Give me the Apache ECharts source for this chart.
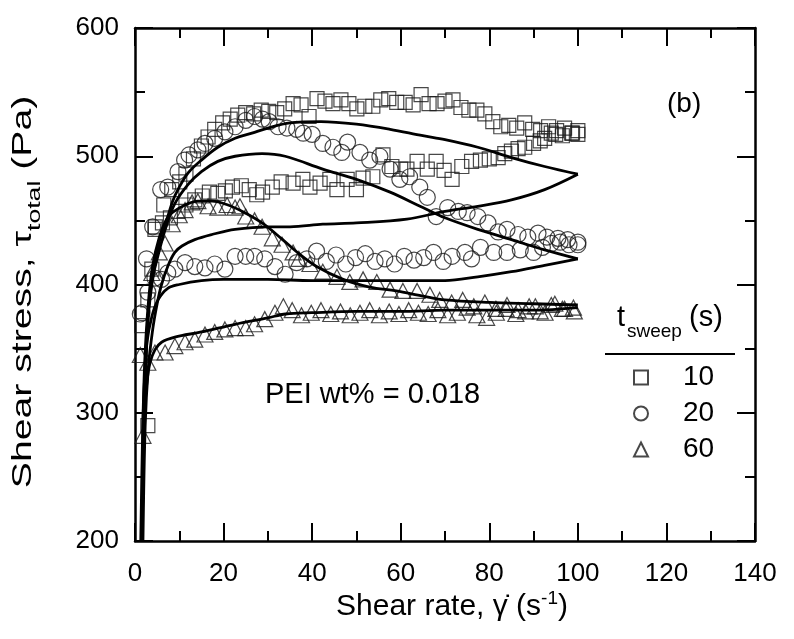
<!DOCTYPE html>
<html><head><meta charset="utf-8">
<script src="https://cdn.jsdelivr.net/npm/echarts@6/dist/echarts.min.js"></script>
<style>html,body{margin:0;padding:0;background:#fff}#c{width:794px;height:639px}</style>
</head><body><div id="c"></div>
<script>
// ---- tick labels ----
const xTickLabels = [0, 20, 40, 60, 80, 100, 120, 140];
const yTickLabels = [200, 300, 400, 500, 600];

// ---- t_sweep = 10 s (squares) ----
const sq10Upper = [[2.9,290],[4.6,445],[6.5,462],[8.3,474],[10.1,480],[11.5,486],[13.2,498],[15,508],[16.5,515],[18,521],[19.8,526],[21.5,529],[23.2,532],[25,534],[26.8,533],[28.5,536],[30.2,535],[32,534],[33.8,537],[35.7,541],[37.5,540],[39.3,531],[41.1,545],[42.9,543],[44.7,541],[46.5,544],[48.3,541],[50.1,537],[51.9,539],[53.7,539],[55.5,544],[57.3,545],[59.1,542],[61,542],[62.8,540],[64.6,548],[66.4,541],[68.2,541],[70,543],[71.8,544],[73.6,538],[75.4,536],[77.2,536],[79,533],[80.8,527],[82.6,523],[84.4,524],[86.2,522],[88,526],[89.8,521],[91.6,520],[93.4,523],[95.2,520],[97,522],[98.8,518],[100,517]];
const sq10Lower = [[1.5,368],[2.9,388],[3.8,412],[4.5,443],[6.2,448],[8,452],[9.7,457],[11.5,462],[13.5,466],[15.2,469],[16.8,472],[18.7,471],[20.4,473],[22,476],[24,477],[25.8,474],[27.5,470],[28.8,472],[31,476],[33,480],[35.7,479],[37.9,482],[39.5,476],[41.8,479],[44,482],[45.6,474],[47.9,482],[50,474],[51.5,483],[53.7,484],[56,501],[58,492],[60,490],[61.4,490],[63.7,496],[66,490],[68,496],[69.8,489],[71.6,482],[73.8,492],[76,496],[78,497],[80,498],[82,499],[83.5,502],[85,504],[86.5,506],[88,507],[90,510],[91.5,512],[92.5,514],[94,518],[95,517],[96.5,516],[98.6,518],[100,520]];

// ---- t_sweep = 20 s (circles) ----
const ci20Upper = [[1.2,377],[2.6,420],[4.0,445],[5.8,474],[7.4,476],[9.7,488],[11.2,497],[12.2,501],[14.2,505],[15.8,510],[18,514],[20.3,519],[22.6,523],[25,528],[27,531],[28.8,529],[30.3,527],[32.3,523],[34.3,522],[36.5,521],[38,518],[40,517],[42.4,510],[44.7,507],[46.7,503],[48,511],[50.8,503],[53,497],[55.3,500],[57.6,490],[59.8,482],[62,484],[64.3,476],[66,468],[68,453],[70.6,460],[73,457],[75,456],[77.4,453],[79.7,448],[82,441],[84,443],[86.5,439],[88.7,437],[91,440],[93,437],[95.5,436],[97.7,435],[100,433]];
const ci20Lower = [[1.6,378],[2.9,394],[4.5,405],[6,404],[7.4,409],[9,412],[11.3,417],[13.5,414],[15.8,413],[18,416],[20.3,412],[22.6,422],[25,422],[27,422],[29.3,420],[31.6,414],[33.9,408],[36.5,417],[38.8,420],[41,426],[43.2,418],[45.4,423],[47.6,416],[49.8,421],[52,424],[54.2,418],[56.4,420],[58.6,416],[60.8,422],[63,419],[65.2,421],[67.4,425],[69.6,418],[71.6,422],[74.5,425],[76,420],[78,429],[81,425],[84,425],[87,427],[90,425],[92,429],[94,432],[96,433],[98,431],[100,431]];

// ---- t_sweep = 60 s (triangles) ----
const tr60Upper = [[1.8,282],[3.8,409],[5.5,425],[6.8,432],[8.4,447],[10,454],[11.3,458],[12.9,464],[14.2,465],[16.5,461],[18.7,460],[20.8,462],[22.6,460],[23.7,461],[25,453],[27,450],[28.7,445],[31,436],[33.2,431],[35.7,425],[37,420],[39.5,416],[42.4,410],[45.6,406],[48.5,402],[51.5,404],[54.6,402],[57.6,396],[60.5,395],[63.7,395],[66.6,392],[68.8,388],[71.5,386],[74,388],[76.5,383],[79,386],[81.5,381],[84,384],[86.5,380],[89,383],[91.5,379],[94,384],[96.5,381],[99,382]];
const tr60Lower = [[1.2,345],[2.9,339],[4.5,347],[6.8,347],[9,352],[11.3,355],[13.5,357],[15.8,361],[18,363],[20.3,365],[22.6,366],[25,366],[27,369],[29.3,373],[31.6,378],[33.5,383],[35.5,380],[37.6,376],[39.8,378],[42,380],[44.2,377],[46.4,379],[48.6,376],[50.8,378],[53,380],[55.2,376],[57.4,379],[59.6,377],[61.8,380],[64,378],[66.2,377],[68.4,380],[70.6,376],[72.8,378],[75,382],[77.2,376],[79.4,374],[81.6,378],[83.8,381],[86,377],[88.2,379],[90.4,383],[92.6,378],[94.8,385],[97,381],[99.2,379]];

// ---- model curves ----
const model10Up = [[1.6,200],[2.0,280],[2.5,340],[3,375],[4,405],[5,425],[6,440],[7.4,453],[8.5,465],[9.7,474],[12,487],[15,497],[18.7,507],[22.6,514],[26.4,518],[30,522],[35,526],[42,527],[50,525],[57.6,521],[65,516],[70,513],[77.4,507],[85,499],[92.5,492],[100,486]];
const model10Down = [[100,486],[92.5,474],[85,466],[77.4,461],[70,457],[61.4,451],[50,448],[42.4,447],[35,445],[30,445],[22.6,443],[17.4,439],[13.5,435],[10.6,430],[9,425],[7.5,415],[6,400],[5,385],[4,365],[3,335],[2.3,290],[1.8,200]];
const model20Up = [[1.5,200],[1.9,280],[2.4,340],[3,378],[3.8,402],[5,420],[7,445],[9,463],[12,478],[15,488],[18.7,496],[22.6,500],[28.7,502],[33.9,500],[42.4,490],[50,482],[57.6,472],[65,460],[70,452],[77.4,443],[85,435],[92.5,427],[100,420]];
const model20Down = [[100,420],[92.5,415],[85,410],[77.4,406],[70,403],[60,403],[50,403],[40,403],[30,404],[20,404],[15,403],[10,400],[7.4,397],[5.2,388],[3.8,375],[2.7,355],[2.2,330],[1.8,290],[1.6,200]];
const model60Up = [[1.3,200],[1.7,280],[2.2,340],[3,385],[4,415],[5.5,437],[7,450],[8.4,456],[11.3,462],[14.2,465],[17.4,465],[21,462],[24.8,456],[28.7,448],[33,436],[37,424],[41,414],[47,404],[53,398],[59,395],[65,391],[70,388],[80,386],[90,385],[100,384]];
const model60Down = [[100,382],[90,380],[80,380],[70,380],[60,379],[50,379],[40,378],[34,377],[30,374],[22.6,369],[15,363],[9,359],[6,355],[4.5,349],[3.4,339],[2.7,324],[2.2,300],[1.8,260],[1.5,200]];

const legendNames = ['10', '20', '60'];

const FONT = '"Liberation Sans", Arial, Helvetica, sans-serif';
const chart = echarts.init(document.getElementById('c'), null, {renderer: 'canvas'});

const hollow = {color: 'rgba(255,255,255,0)', borderColor: '#1a1a1a', borderWidth: 1.2};
function scatter(name, data, symbol, size) {
  return {type: 'scatter', name, data, symbol, symbolSize: size, itemStyle: hollow,
          emphasis: {disabled: true}, z: 2, animation: false};
}
function model(data) {
  return {type: 'line', data, showSymbol: false, symbol: 'none', smooth: 0.35,
          lineStyle: {color: '#000', width: 2.8}, z: 3, animation: false, silent: true};
}
const frameAxisLine = {show: true, onZero: false, lineStyle: {color: '#000', width: 2.5}};
const majorTick = {show: true, inside: true, length: 18, lineStyle: {color: '#000', width: 2}};
const minorTick = {show: true, splitNumber: 2, length: 10, lineStyle: {color: '#000', width: 2}};

const option = {
  animation: false,
  backgroundColor: '#fff',
  grid: {left: 135, right: 39, top: 28, bottom: 98, containLabel: false},
  xAxis: [
    {type: 'value', min: xTickLabels[0], max: xTickLabels[xTickLabels.length - 1], interval: 20,
     axisLine: frameAxisLine, axisTick: majorTick, minorTick: minorTick, splitLine: {show: false},
     axisLabel: {show: true, color: '#000', fontSize: 26, fontFamily: FONT, margin: 20}},
    {type: 'value', position: 'top', min: xTickLabels[0], max: xTickLabels[xTickLabels.length - 1], interval: 20,
     axisLine: frameAxisLine, axisTick: majorTick, minorTick: minorTick, splitLine: {show: false},
     axisLabel: {show: false}}
  ],
  yAxis: [
    {type: 'value', min: yTickLabels[0], max: yTickLabels[yTickLabels.length - 1], interval: 100,
     axisLine: frameAxisLine, axisTick: majorTick, minorTick: minorTick, splitLine: {show: false},
     axisLabel: {show: true, color: '#000', fontSize: 26, fontFamily: FONT, margin: 16}},
    {type: 'value', position: 'right', min: yTickLabels[0], max: yTickLabels[yTickLabels.length - 1], interval: 100,
     axisLine: frameAxisLine, axisTick: majorTick, minorTick: minorTick, splitLine: {show: false},
     axisLabel: {show: false}}
  ],
  legend: {
    data: legendNames.map(n => ({name: n})),
    orient: 'vertical', left: 628, top: 358, itemWidth: 14, itemHeight: 14, itemGap: 7,
    selectedMode: false,
    textStyle: {color: '#000', fontSize: 28, fontFamily: FONT, padding: [0, 0, 0, 30], lineHeight: 29}
  },
  series: [
    scatter('10', sq10Upper, 'rect', 14),
    scatter('10', sq10Lower, 'rect', 14),
    scatter('20', ci20Upper, 'circle', 16),
    scatter('20', ci20Lower, 'circle', 16),
    scatter('60', tr60Upper, 'triangle', [16, 15]),
    scatter('60', tr60Lower, 'triangle', [16, 15]),
    model(model10Up), model(model10Down),
    model(model20Up), model(model20Down),
    model(model60Up), model(model60Down)
  ],
  graphic: [
    {type: 'text', x: 23, y: 292, rotation: Math.PI / 2, scaleX: 1.4, scaleY: 1,
     style: {text: '{a|Shear stress, τ}{s|total}{a| (Pa)}', align: 'center', verticalAlign: 'middle',
       rich: {a: {fontSize: 28, fontFamily: FONT, fill: '#000', verticalAlign: 'bottom'},
              s: {fontSize: 19, fontFamily: FONT, fill: '#000', verticalAlign: 'bottom', padding: [0, 0, -7, 0]}}}},
    {type: 'text', x: 452, y: 607,
     style: {text: '{a|Shear rate, γ̇ (s}{p|-1}{a|)}', align: 'center', verticalAlign: 'middle',
       rich: {a: {fontSize: 30, fontFamily: FONT, fill: '#000', verticalAlign: 'top'},
              p: {fontSize: 19, fontFamily: FONT, fill: '#000', verticalAlign: 'top', padding: [-3, 0, 0, 0]}}}},
    {type: 'text', left: 265, top: 380, style: {text: 'PEI wt% = 0.018', fontSize: 29, fontFamily: FONT, fill: '#000'}},
    {type: 'text', left: 667, top: 90, style: {text: '(b)', fontSize: 28, fontFamily: FONT, fill: '#000'}},
    {type: 'text', left: 617, top: 303, style: {text: 't', fontSize: 29, fontFamily: FONT, fill: '#000'}},
    {type: 'text', left: 627, top: 322, style: {text: 'sweep', fontSize: 19, fontFamily: FONT, fill: '#000'}},
    {type: 'text', left: 689, top: 303, style: {text: '(s)', fontSize: 29, fontFamily: FONT, fill: '#000'}},
    {type: 'line', shape: {x1: 605, y1: 354, x2: 735, y2: 354}, style: {stroke: '#000', lineWidth: 2}}
  ]
};
chart.setOption(option);
</script></body></html>
